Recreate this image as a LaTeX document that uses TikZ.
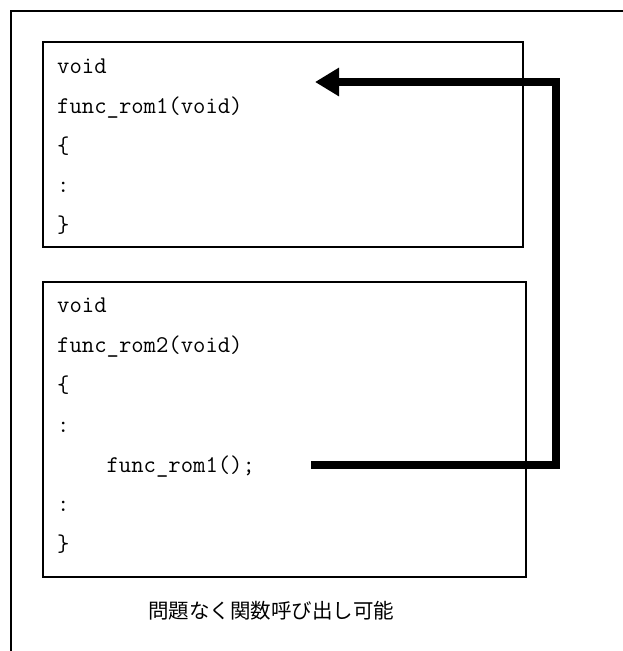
\documentclass[tikz,border=0pt]{standalone}
\usepackage{fontspec}
\newfontfamily\cjk{Noto Sans CJK JP}
\usetikzlibrary{arrows.meta}
\tikzset{
  x=1pt, y=-1pt,
  frame/.style={line width=2pt},
  codebox/.style={draw, line width=2pt, inner sep=0pt},
  code/.style={anchor=base west, inner sep=0pt, font=\ttfamily\fontsize{24}{26}\selectfont},
  callarrow/.style={line width=8pt, line join=miter, -{Triangle[length=24pt,width=27pt]}},
}
\begin{document}
\begin{tikzpicture}
\useasboundingbox (0,0) rectangle (623,651);
% outer frame (top and left only)
\draw[frame] (623,11) -- (11,11) -- (11,651);
% boxes
\node[codebox, minimum width=480pt, minimum height=205pt] (box1) at (283,144.5) {};
\node[codebox, minimum width=483pt, minimum height=295pt] (box2) at (284.5,429.5) {};
% box 1 code
\node[code] (a1) at (57,73) {void};
\node[code] (a2) at (57,113) {func\_rom1(void)};
\node[code] (a3) at (57,153) {\{};
\node[code] (a4) at (57,192) {:};
\node[code] (a5) at (57,232) {\}};
% box 2 code
\node[code] (b1) at (57,312) {void};
\node[code] (b2) at (57,352) {func\_rom2(void)};
\node[code] (b3) at (57,392) {\{};
\node[code] (b4) at (57,432) {:};
\node[code] (b5) at (57,472) {\ \ \ \ func\_rom1();};
\node[code] (b6) at (57,511) {:};
\node[code] (b7) at (57,551) {\}};
% caption
\node[anchor=base west, inner sep=0pt, font=\cjk\fontsize{20.5}{24}\selectfont] (cap) at (148,618) {問題なく関数呼び出し可能};
% arrow
\coordinate (from) at (311,465);
\coordinate (tip) at (315,82);
\draw[callarrow] (from) -- (555.5,465) -- (555.5,82) -- (tip);
\end{tikzpicture}
\end{document}
